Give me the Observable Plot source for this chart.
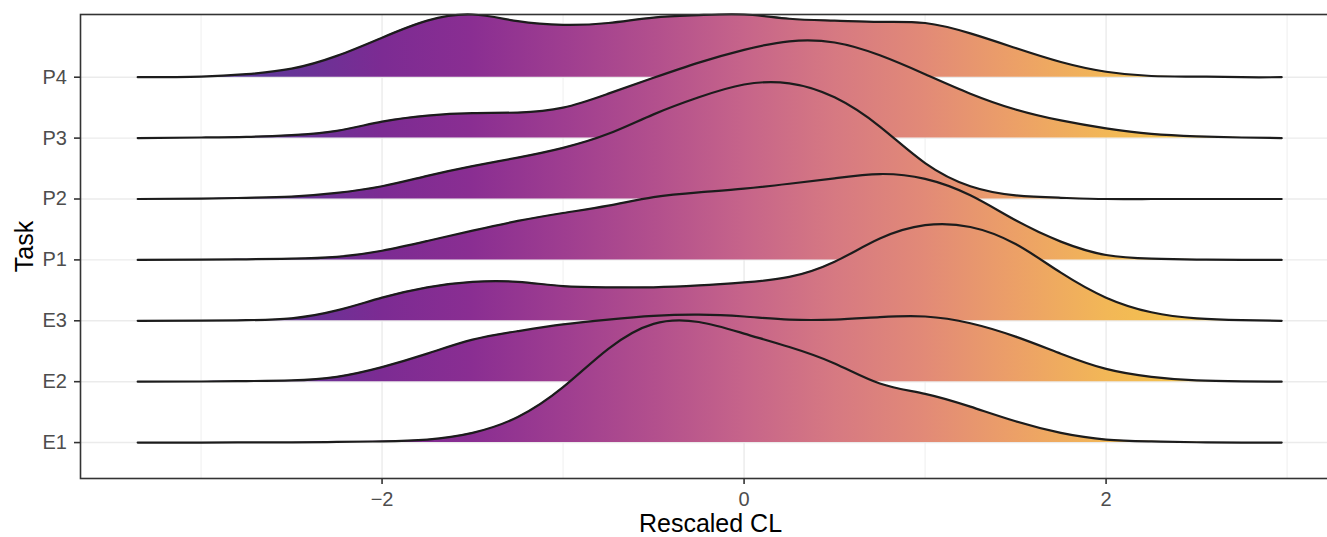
<!DOCTYPE html>
<html>
<head>
<meta charset="utf-8">
<script src="https://cdn.jsdelivr.net/npm/d3@7"></script>
<script src="https://cdn.jsdelivr.net/npm/@observablehq/plot@0.6"></script>
<style>
  html, body { margin: 0; padding: 0; background: #fff; overflow: hidden; }
  #chart svg { max-width: none !important; display: block; }
</style>
</head>
<body>
<div id="chart"></div>
<script>
// ---- data ----
const tasks = ["E1", "E2", "E3", "P1", "P2", "P3", "P4"];
const xTicks = [-2, 0, 2];
const xMinorTicks = [-3, -1, 1, 3];
const xAxisTitle = "Rescaled CL";
const yAxisTitle = "Task";

// x positions of the density estimates (Rescaled CL)
const xGrid = [-3.35, -3.0, -2.75, -2.5, -2.25, -2.0, -1.75, -1.5, -1.25, -1.0, -0.75, -0.5, -0.25,
               0, 0.25, 0.5, 0.75, 1.0, 1.25, 1.5, 1.75, 2.0, 2.25, 2.5, 2.75, 2.97];

// scaled ridge heights (in units of row spacing)
const E1 = [0, 0, 0.002, 0.003, 0.01, 0.02, 0.05, 0.16, 0.42, 0.91, 1.54, 1.95, 1.98,
            1.79, 1.57, 1.30, 0.97, 0.80, 0.59, 0.35, 0.16, 0.05, 0.02, 0.005, 0, 0];
const E2 = [0, 0.003, 0.01, 0.02, 0.08, 0.24, 0.46, 0.69, 0.83, 0.94, 1.02, 1.08, 1.10,
            1.07, 1.02, 1.02, 1.06, 1.07, 0.96, 0.74, 0.46, 0.21, 0.08, 0.02, 0.005, 0];
const E3 = [0, 0.003, 0.01, 0.04, 0.17, 0.38, 0.55, 0.64, 0.64, 0.57, 0.55, 0.55, 0.58,
            0.63, 0.72, 0.97, 1.35, 1.57, 1.54, 1.26, 0.79, 0.38, 0.14, 0.04, 0.01, 0];
const P1 = [0, 0.003, 0.01, 0.02, 0.05, 0.15, 0.31, 0.48, 0.64, 0.77, 0.89, 1.03, 1.11,
            1.17, 1.25, 1.34, 1.41, 1.33, 1.06, 0.65, 0.30, 0.08, 0.02, 0.005, 0, 0];
const P2 = [0, 0.005, 0.02, 0.04, 0.10, 0.21, 0.38, 0.54, 0.68, 0.84, 1.07, 1.39, 1.67,
            1.88, 1.90, 1.67, 1.19, 0.59, 0.21, 0.06, 0.02, 0, 0, 0, 0, 0];
const P3 = [0, 0.01, 0.02, 0.05, 0.12, 0.27, 0.37, 0.41, 0.42, 0.50, 0.73, 0.99, 1.24,
            1.45, 1.59, 1.57, 1.36, 1.05, 0.73, 0.47, 0.29, 0.16, 0.07, 0.03, 0.01, 0];
const P4 = [0, 0.01, 0.05, 0.14, 0.35, 0.65, 0.93, 1.03, 0.92, 0.86, 0.89, 0.98, 1.02,
            1.03, 0.96, 0.93, 0.91, 0.89, 0.72, 0.48, 0.25, 0.09, 0.02, 0.01, 0, 0];

// gradient palette (value along x -> colour)
const gradValues = [-3.35, -3.0, -2.5, -2.0, -1.5, -1.0, -0.5, 0, 0.5, 1.0, 1.5, 2.0, 2.5, 2.97];
const gradColors = ["#4b3ea0", "#543aa0", "#663497", "#7c2b93", "#8a2e92", "#9e3d90", "#b24f8d",
                    "#c6648a", "#d67982", "#e28a77", "#eca067", "#f2b757", "#f5c54b", "#f7cc47"];

// ---- build table ----
const series = {E1, E2, E3, P1, P2, P3, P4};
const rows = tasks.flatMap((t, i) => xGrid.map((x, j) => ({task: t, idx: i, x, h: series[t][j]})));

const xDomain = [-3.666, 3.295];
const yDomain = [-0.59, 7.03];

// gradient definition (user-space, positioned with the x scale)
const gradientDef = (index, scales, values, dims) => {
  let sx = scales && typeof scales.x === "function" ? scales.x : null;
  if (!sx) {
    sx = d3.scaleLinear().domain(xDomain).range([dims.marginLeft, dims.width - dims.marginRight]);
  }
  const x0 = gradValues[0], x1 = gradValues[gradValues.length - 1];
  const defs = d3.create("svg:defs");
  const lg = defs.append("linearGradient")
    .attr("id", "ridgeGrad")
    .attr("gradientUnits", "userSpaceOnUse")
    .attr("x1", sx(x0)).attr("x2", sx(x1))
    .attr("y1", 0).attr("y2", 0);
  gradValues.forEach((v, k) => {
    lg.append("stop")
      .attr("offset", (v - x0) / (x1 - x0))
      .attr("stop-color", gradColors[k]);
  });
  return defs.node();
};

const marks = [
  gradientDef,
  Plot.gridX({ticks: xMinorTicks, stroke: "#ebebeb", strokeOpacity: 1, strokeWidth: 0.8}),
  Plot.gridX({ticks: xTicks, stroke: "#ebebeb", strokeOpacity: 1, strokeWidth: 1.4}),
  Plot.gridY({ticks: tasks.map((t, i) => i), stroke: "#ebebeb", strokeOpacity: 1, strokeWidth: 1.4})
];

for (let i = tasks.length - 1; i >= 0; i--) {
  const d = rows.filter(r => r.idx === i);
  marks.push(Plot.areaY(d, {
    x: "x", y1: r => r.idx, y2: r => r.idx + Math.max(0, r.h),
    fill: "url(#ridgeGrad)", fillOpacity: 1, curve: "natural"
  }));
  marks.push(Plot.lineY(d, {
    x: "x", y: r => r.idx + r.h,
    stroke: "#1c1c1c", strokeWidth: 2.2, curve: "natural"
  }));
}

marks.push(
  Plot.frame({stroke: "#333333", strokeWidth: 1.6}),
  Plot.axisX({
    ticks: xTicks, tickSize: 6, tickPadding: 7.5, label: null,
    tickFormat: d => d < 0 ? "\u2212" + Math.abs(d) : String(d),
    stroke: "#333333", strokeWidth: 1.6, fill: "#4d4d4d", fontSize: 20
  }),
  Plot.axisY({
    ticks: tasks.map((t, i) => i), tickSize: 6, tickPadding: 7.5, label: null,
    tickFormat: i => tasks[i],
    stroke: "#333333", strokeWidth: 1.6, fill: "#4d4d4d", fontSize: 20
  }),
  Plot.text([xAxisTitle], {
    text: d => d, frameAnchor: "bottom", dy: 53, lineAnchor: "bottom",
    textAnchor: "middle", fontSize: 25, fill: "#000"
  }),
  Plot.text([yAxisTitle], {
    text: d => d, frameAnchor: "left", dx: -48, rotate: -90, lineAnchor: "bottom",
    textAnchor: "middle", fontSize: 25, fill: "#000"
  })
);

const chart = Plot.plot({
  width: 1340,
  height: 537,
  marginLeft: 80,
  marginRight: 0,
  marginTop: 14,
  marginBottom: 59,
  x: {domain: xDomain},
  y: {domain: yDomain},
  style: {
    fontFamily: "'Liberation Sans', Arial, Helvetica, sans-serif",
    fontSize: "20px",
    background: "#ffffff",
    maxWidth: "none",
    overflow: "hidden"
  },
  marks
});

document.getElementById("chart").appendChild(chart);
</script>
</body>
</html>
